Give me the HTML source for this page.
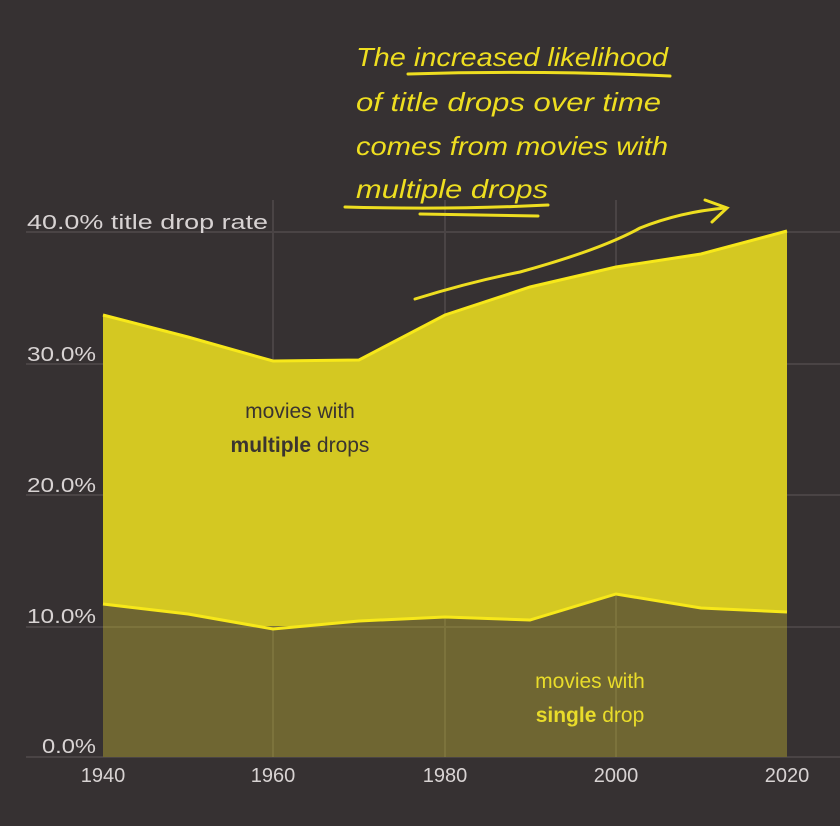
<!DOCTYPE html>
<html><head><meta charset="utf-8"><style>
body{margin:0;background:#363132;}
svg{display:block}
text{font-family:"Liberation Sans",sans-serif}
</style></head><body>
<svg width="840" height="826" viewBox="0 0 840 826">
<rect width="840" height="826" fill="#363132"/>
<g stroke="#4a4445" stroke-width="2">
<line x1="26" y1="232" x2="840" y2="232"/>
<line x1="26" y1="364" x2="840" y2="364"/>
<line x1="26" y1="495" x2="840" y2="495"/>
<line x1="26" y1="627" x2="840" y2="627"/>
<line x1="26" y1="757" x2="840" y2="757"/>
<line x1="273" y1="200" x2="273" y2="757"/>
<line x1="445" y1="200" x2="445" y2="757"/>
<line x1="616" y1="200" x2="616" y2="757"/>
</g>
<polygon fill="#d4c822" points="103,315 188,337 273,361 359,360 445,315 530,287 616,267 701,254 787,231 787,612 701,608 616,594 530,620 445,617 359,621 273,629 188,614 103,604"/>
<polygon fill="#6f6632" points="103,604 188,614 273,629 359,621 445,617 530,620 616,594 701,608 787,612 787,757 103,757"/>
<g stroke="#7c733c" stroke-width="2"><line x1="273" y1="630" x2="273" y2="757"/><line x1="445" y1="619" x2="445" y2="757"/><line x1="616" y1="596" x2="616" y2="757"/><line x1="103" y1="627" x2="787" y2="627"/></g>
<polyline fill="none" stroke="#f7e81a" stroke-width="3" points="103,315 188,337 273,361 359,360 445,315 530,287 616,267 701,254 787,231"/>
<polyline fill="none" stroke="#f7e81a" stroke-width="3" points="103,604 188,614 273,629 359,621 445,617 530,620 616,594 701,608 787,612"/>
<g fill="#d8d3d3" font-size="20">
<text x="27" y="229" textLength="241" lengthAdjust="spacingAndGlyphs">40.0% title drop rate</text>
<text x="27" y="361" textLength="69" lengthAdjust="spacingAndGlyphs">30.0%</text>
<text x="27" y="492" textLength="69" lengthAdjust="spacingAndGlyphs">20.0%</text>
<text x="27" y="623" textLength="69" lengthAdjust="spacingAndGlyphs">10.0%</text>
<text x="42" y="753" textLength="54" lengthAdjust="spacingAndGlyphs">0.0%</text>
<g text-anchor="middle">
<text x="103" y="782">1940</text><text x="273" y="782">1960</text><text x="445" y="782">1980</text><text x="616" y="782">2000</text><text x="787" y="782">2020</text>
</g></g>
<g font-size="21" text-anchor="middle">
<text x="300" y="418" fill="#3a3430">movies with</text>
<text x="300" y="452" fill="#3a3430"><tspan font-weight="bold">multiple</tspan> drops</text>
<text x="590" y="688" fill="#e9dc2a">movies with</text>
<text x="590" y="722" fill="#e9dc2a"><tspan font-weight="bold">single</tspan> drop</text>
</g>
<g fill="#eede20" font-size="26" font-style="italic">
<text x="356" y="66" textLength="312" lengthAdjust="spacingAndGlyphs">The increased likelihood</text>
<text x="356" y="111" textLength="305" lengthAdjust="spacingAndGlyphs">of title drops over time</text>
<text x="356" y="155" textLength="312" lengthAdjust="spacingAndGlyphs">comes from movies with</text>
<text x="356" y="198" textLength="192" lengthAdjust="spacingAndGlyphs">multiple drops</text>
</g>
<g fill="none" stroke="#eede20" stroke-width="3" stroke-linecap="round">
<path d="M408,74 Q540,70 670,76"/>
<path d="M345,207 Q450,210 548,205 M420,214 L538,216"/>
<path d="M415,299 Q470,282 520,272 Q600,250 640,228 Q680,212 725,208 M705,200 L727,208 L712,222"/>
</g>
</svg>
</body></html>
